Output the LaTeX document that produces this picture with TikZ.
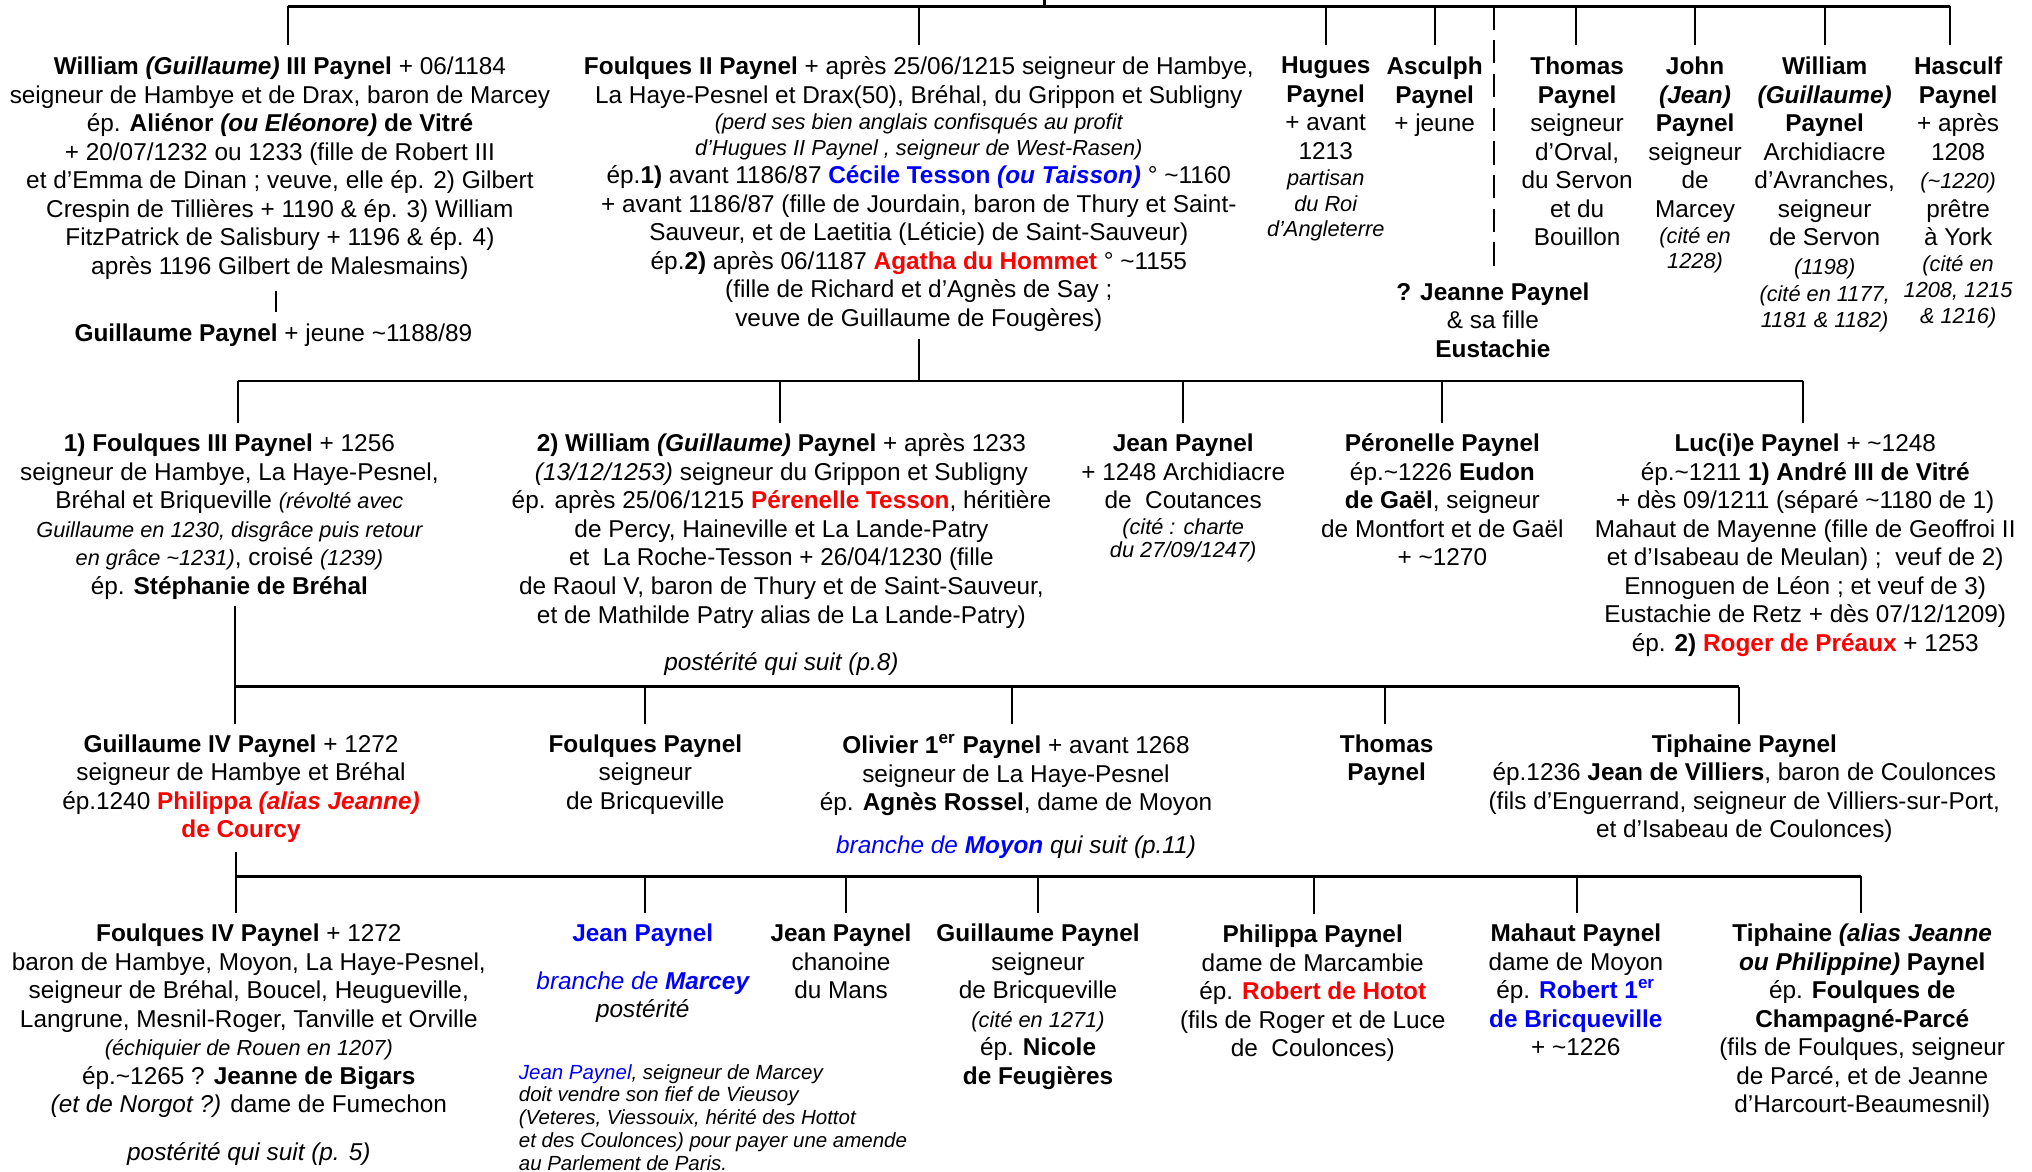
\documentclass[tikz,border=0pt]{standalone}
\usepackage{fontspec}
\setmainfont{Liberation Sans}
\usepackage{xcolor}
\definecolor{pblue}{RGB}{0,0,255}
\definecolor{pred}{RGB}{255,0,0}
\newcommand\fmain{\fontsize{9.4}{11}\selectfont}
\newcommand\fsmall{\fontsize{8.4}{10}\selectfont}
\newcommand\fnote{\fontsize{7.9}{8.75}\selectfont}
\newcommand\smit[1]{{\fsmall\itshape #1}}
\newcommand\tld{\textasciitilde}
\begin{document}
\begin{tikzpicture}[x=0.5pt,y=-0.5pt,
  txt/.style={inner sep=0pt, align=center, font=\fmain, execute at begin node=\strut, anchor=north, yshift=-1.25pt},
  note/.style={inner sep=0pt, align=left, font=\fnote, execute at begin node=\strut, anchor=north west, yshift=-1pt},
  bar/.style={line width=1.15pt},
  drop/.style={line width=0.8pt},
  dropd/.style={line width=0.8pt, dash pattern=on 9pt off 4pt},
]
\useasboundingbox (0,0) rectangle (1568,904);

% ---------------- Row 1 ----------------
\node[txt] (w3) at (216,41) {\textbf{William \textit{(Guillaume)} III Paynel} + 06/1184\\
seigneur de Hambye et de Drax, baron de Marcey\\
ép. \textbf{Aliénor \textit{(ou Eléonore)} de Vitré}\\
+ 20/07/1232 ou 1233 (fille de Robert III\\
et d’Emma de Dinan ; veuve, elle ép. 2) Gilbert\\
Crespin de Tillières + 1190 \& ép. 3) William\\
FitzPatrick de Salisbury + 1196 \& ép. 4)\\
après 1196 Gilbert de Malesmains)};

\node[txt] (gp) at (211,245) {\textbf{Guillaume Paynel} + jeune \tld1188/89};

\node[txt] (f2) at (709,41) {\textbf{Foulques II Paynel} + après 25/06/1215 seigneur de Hambye,\\
La Haye-Pesnel et Drax(50), Bréhal, du Grippon et Subligny\\[-1pt]
\smit{(perd ses bien anglais confisqués au profit}\\[-1pt]
\smit{d’Hugues II Paynel , seigneur de West-Rasen)}\\
ép.\textbf{1)} avant 1186/87 \textcolor{pblue}{\textbf{Cécile Tesson \textit{(ou Taisson)}}} ° \tld1160\\
+ avant 1186/87 (fille de Jourdain, baron de Thury et Saint-\\
Sauveur, et de Laetitia (Léticie) de Saint-Sauveur)\\
ép.\textbf{2)} après 06/1187 \textcolor{pred}{\textbf{Agatha du Hommet}} ° \tld1155\\
(fille de Richard et d’Agnès de Say ;\\
veuve de Guillaume de Fougères)};

\node[txt] (hu) at (1023,41) {\textbf{Hugues}\\ \textbf{Paynel}\\ + avant\\ 1213\\[-1pt] \smit{partisan}\\[-1pt] \smit{du Roi}\\[-1pt] \smit{d’Angleterre}};
\node[txt] (as) at (1107,41) {\textbf{Asculph}\\ \textbf{Paynel}\\ + jeune};
\node[txt] (th) at (1217,41) {\textbf{Thomas}\\ \textbf{Paynel}\\ seigneur\\ d’Orval,\\ du Servon\\ et du\\ Bouillon};
\node[txt] (jo) at (1308,41) {\textbf{John}\\ \textbf{\textit{(Jean)}}\\ \textbf{Paynel}\\ seigneur\\ de\\ Marcey\\[-1pt] \smit{(cité en}\\[-1pt] \smit{1228)}};
\node[txt] (wi) at (1408,41) {\textbf{William}\\ \textbf{\textit{(Guillaume)}}\\ \textbf{Paynel}\\ Archidiacre\\ d’Avranches,\\ seigneur\\ de Servon\\ \smit{(1198)}\\[-0.5pt] \smit{(cité en 1177,}\\[-1pt] \smit{1181 \& 1182)}};
\node[txt] (ha) at (1511,41) {\textbf{Hasculf}\\ \textbf{Paynel}\\ + après\\ 1208\\ \smit{(\tld1220)}\\ prêtre\\ à York\\[-1pt] \smit{(cité en}\\[-1pt] \smit{1208, 1215}\\[-1pt] \smit{\& 1216)}};
\node[txt] (je) at (1152,215) {\textbf{? Jeanne Paynel}\\ \& sa fille\\ \textbf{Eustachie}};

% ---------------- Row 2 ----------------
\node[txt] (f3) at (177,332) {\textbf{1) Foulques III Paynel} + 1256\\
seigneur de Hambye, La Haye-Pesnel,\\
Bréhal et Briqueville \smit{(révolté avec}\\
\smit{Guillaume en 1230, disgrâce puis retour}\\
\smit{en grâce \tld1231)}, croisé \smit{(1239)}\\
ép. \textbf{Stéphanie de Bréhal}};

\node[txt] (w2) at (603,332) {\textbf{2) William \textit{(Guillaume)} Paynel} + après 1233\\
\textit{(13/12/1253)} seigneur du Grippon et Subligny\\
ép. après 25/06/1215 \textcolor{pred}{\textbf{Pérenelle Tesson}}, héritière\\
de Percy, Haineville et La Lande-Patry\\
et\ \ La Roche-Tesson + 26/04/1230 (fille\\
de Raoul V, baron de Thury et de Saint-Sauveur,\\
et de Mathilde Patry alias de La Lande-Patry)\\[7.5pt]
\textit{postérité qui suit (p.8)}};

\node[txt] (jp) at (913,332) {\textbf{Jean Paynel}\\ + 1248 Archidiacre\\ de\ \ Coutances\\[-1pt] \smit{(cité : charte}\\[-2pt] \smit{du 27/09/1247)}};
\node[txt] (pe) at (1113,332) {\textbf{Péronelle Paynel}\\ ép.\tld1226 \textbf{Eudon}\\ \textbf{de Gaël}, seigneur\\ de Montfort et de Gaël\\ + \tld1270};
\node[txt] (lu) at (1393,332) {\textbf{Luc(i)e Paynel} + \tld1248\\
ép.\tld1211 \textbf{1) André III de Vitré}\\
+ dès 09/1211 (séparé \tld1180 de 1)\\
Mahaut de Mayenne (fille de Geoffroi II\\
et d’Isabeau de Meulan) ;\ \ veuf de 2)\\
Ennoguen de Léon ; et veuf de 3)\\
Eustachie de Retz + dès 07/12/1209)\\
ép. \textbf{2)} \textcolor{pred}{\textbf{Roger de Préaux}} + 1253};

% ---------------- Row 3 ----------------
\node[txt] (g4) at (186,564) {\textbf{Guillaume IV Paynel} + 1272\\ seigneur de Hambye et Bréhal\\ ép.1240 \textcolor{pred}{\textbf{Philippa \textit{(alias Jeanne)}}}\\ \textcolor{pred}{\textbf{de Courcy}}};
\node[txt] (fp) at (498,564) {\textbf{Foulques Paynel}\\ seigneur\\ de Bricqueville};
\node[txt] (ol) at (784,564) {\textbf{Olivier 1\textsuperscript{er} Paynel} + avant 1268\\ seigneur de La Haye-Pesnel\\ ép. \textbf{Agnès Rossel}, dame de Moyon\\[5.5pt] \textit{\textcolor{pblue}{branche de \textbf{Moyon}} qui suit (p.11)}};
\node[txt] (tp) at (1070,564) {\textbf{Thomas}\\ \textbf{Paynel}};
\node[txt] (ti) at (1346,564) {\textbf{Tiphaine Paynel}\\ ép.1236 \textbf{Jean de Villiers}, baron de Coulonces\\ (fils d’Enguerrand, seigneur de Villiers-sur-Port,\\ et d’Isabeau de Coulonces)};

% ---------------- Row 4 ----------------
\node[txt] (f4) at (192,710) {\textbf{Foulques IV Paynel} + 1272\\ baron de Hambye, Moyon, La Haye-Pesnel,\\ seigneur de Bréhal, Boucel, Heugueville,\\ Langrune, Mesnil-Roger, Tanville et Orville\\ \smit{(échiquier de Rouen en 1207)}\\ ép.\tld1265 ? \textbf{Jeanne de Bigars}\\ \textit{(et de Norgot ?)} dame de Fumechon\\[7.5pt] \textit{postérité qui suit (p. 5)}};
\node[txt] (jm) at (496,710) {\textcolor{pblue}{\textbf{Jean Paynel}}\\[7.5pt] \textit{\textcolor{pblue}{branche de \textbf{Marcey}}}\\ \textit{postérité}};
\node[note] (nt) at (400,819) {\textit{\textcolor{pblue}{Jean Paynel}, seigneur de Marcey}\\ \textit{doit vendre son fief de Vieusoy}\\ \textit{(Veteres, Viessouix, hérité des Hottot}\\ \textit{et des Coulonces) pour payer une amende}\\ \textit{au Parlement de Paris.}};
\node[txt] (jc) at (649,710) {\textbf{Jean Paynel}\\ chanoine\\ du Mans};
\node[txt] (gu) at (801,710) {\textbf{Guillaume Paynel}\\ seigneur\\ de Bricqueville\\ \smit{(cité en 1271)}\\ ép. \textbf{Nicole}\\ \textbf{de Feugières}};
\node[txt] (ph) at (1013,711) {\textbf{Philippa Paynel}\\ dame de Marcambie\\ ép. \textcolor{pred}{\textbf{Robert de Hotot}}\\ (fils de Roger et de Luce\\ de\ \ Coulonces)};
\node[txt] (ma) at (1216,710) {\textbf{Mahaut Paynel}\\ dame de Moyon\\ ép. \textcolor{pblue}{\textbf{Robert 1\textsuperscript{er}}}\\ \textcolor{pblue}{\textbf{de Bricqueville}}\\ + \tld1226};
\node[txt] (tf) at (1437,710) {\textbf{Tiphaine \textit{(alias Jeanne}}\\ \textbf{\textit{ou Philippine)} Paynel}\\ ép. \textbf{Foulques de}\\ \textbf{Champagné-Parcé}\\ (fils de Foulques, seigneur\\ de Parcé, et de Jeanne\\ d’Harcourt-Beaumesnil)};

% ---------------- Connectors ----------------
% top
\coordinate (top) at (806,0);
\coordinate (t0) at (806,5);
\coordinate (r1L) at (222,5);
\coordinate (r1R) at (1505,5);
\draw[drop] (top) -- (t0);
\draw[bar] (r1L) -- (r1R);
\foreach \x/\n in {222/w3,709/f2,1023/hu,1107/as,1216/th,1308/jo,1408/wi,1505/ha}{
  \coordinate (d1\n) at (\x,5);
  \draw[drop, shorten >=4.5pt] (d1\n) -- (d1\n |- \n.north);
}
\coordinate (dj) at (1153,5);
\draw[dropd, shorten >=4pt] (dj) -- (dj |- je.north);
\coordinate (wg) at (213,230);
\draw[drop, shorten <=3pt, shorten >=3.5pt] (wg |- w3.south) -- (wg |- gp.north);

% row 2
\coordinate (r2L) at (184,294);
\coordinate (r2R) at (1391,294);
\coordinate (p2) at (709,294);
\draw[bar] (r2L) -- (r2R);
\draw[drop, shorten <=1.5pt] (p2 |- f2.south) -- (p2);
\foreach \x/\n in {184/f3,602/w2,913/jp,1113/pe,1391/lu}{
  \coordinate (d2\n) at (\x,294);
  \draw[drop, shorten >=4pt] (d2\n) -- (d2\n |- \n.north);
}

% row 3
\coordinate (r3L) at (181,530);
\coordinate (r3R) at (1342,530);
\draw[bar] (r3L) -- (r3R);
\draw[drop, shorten <=1pt] (r3L |- f3.south) -- (r3L);
\foreach \x/\n in {181/g4,498/fp,781/ol,1069/tp,1342/ti}{
  \coordinate (d3\n) at (\x,530);
  \draw[drop, shorten >=4pt] (d3\n) -- (d3\n |- \n.north);
}

% row 4
\coordinate (r4L) at (182,676);
\coordinate (r4R) at (1436,676);
\draw[bar] (r4L) -- (r4R);
\draw[drop, shorten <=2pt] (r4L |- g4.south) -- (r4L);
\foreach \x/\n in {182/f4,498/jm,653/jc,801/gu,1014/ph,1217/ma,1436/tf}{
  \coordinate (d4\n) at (\x,676);
  \draw[drop, shorten >=4pt] (d4\n) -- (d4\n |- \n.north);
}
\end{tikzpicture}
\end{document}
